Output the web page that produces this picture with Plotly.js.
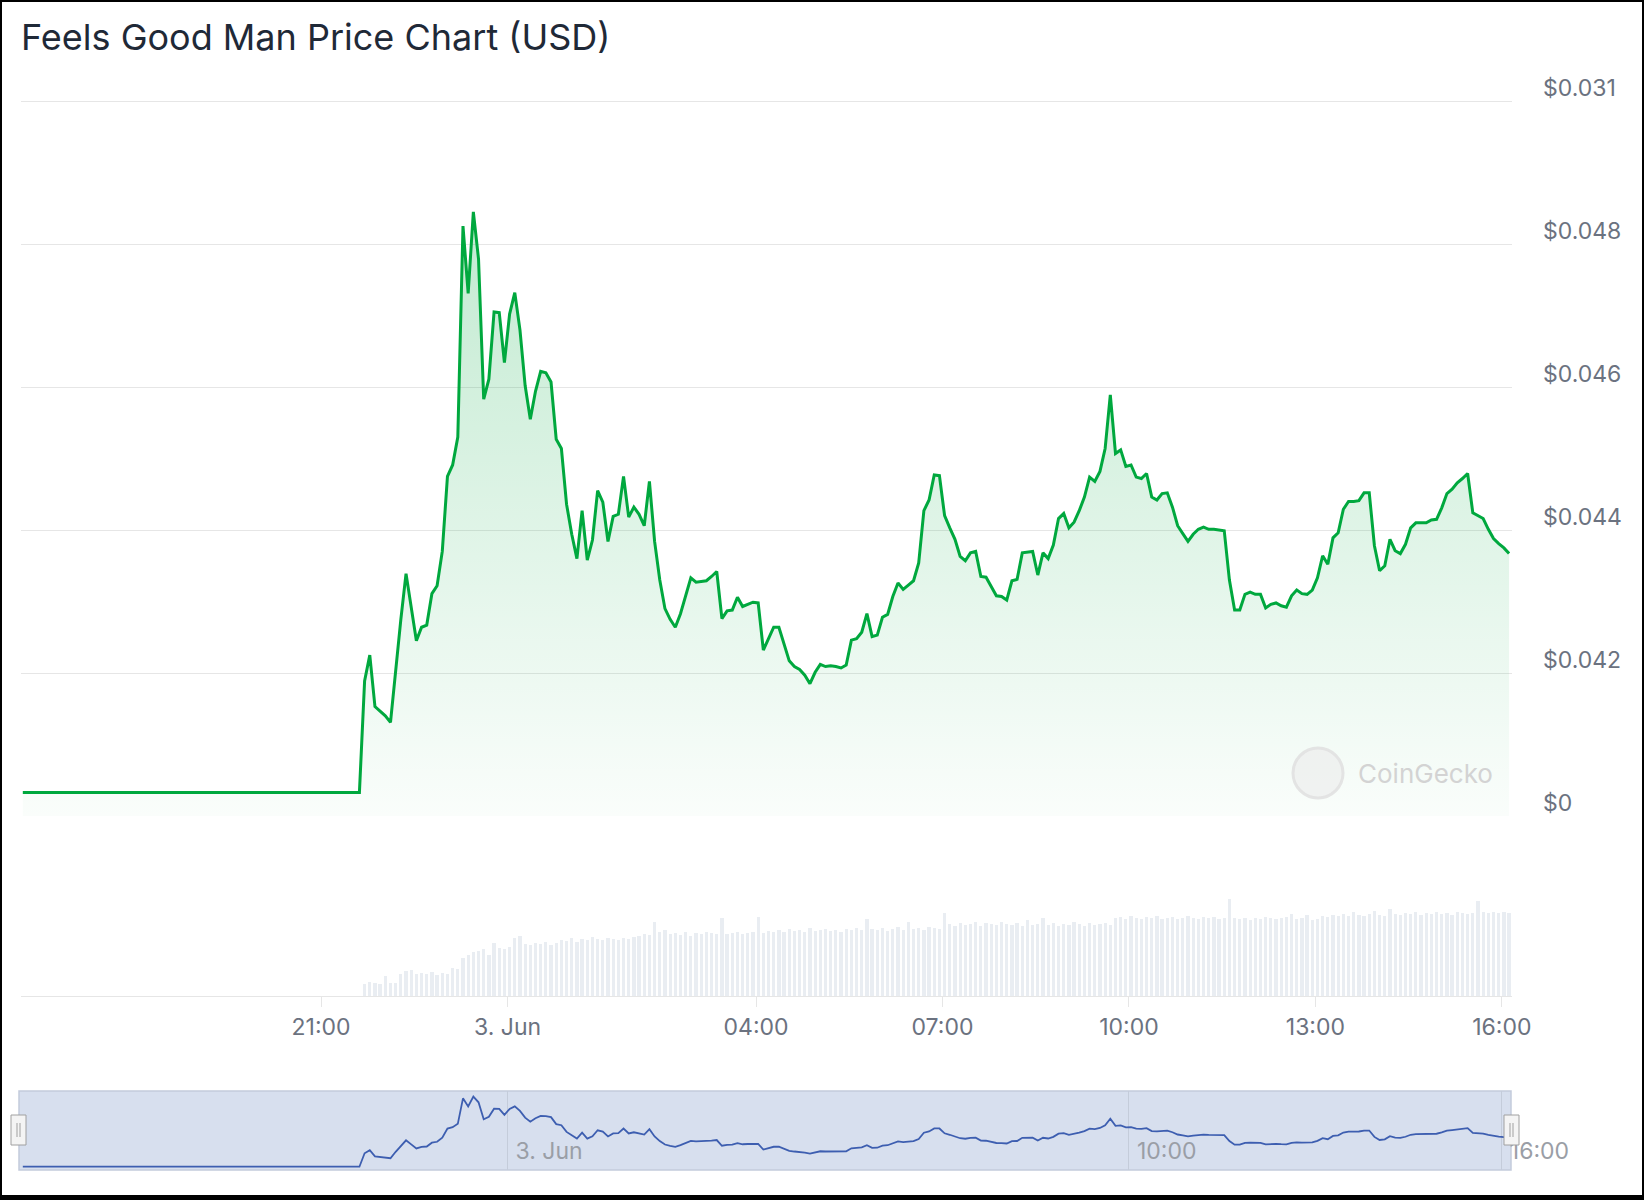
<!DOCTYPE html>
<html><head><meta charset="utf-8">
<script src="https://cdn.plot.ly/plotly-3.0.1.min.js"></script>
<style>
html,body{margin:0;padding:0;background:#fff;}
#chart{width:1644px;height:1200px;}
#frame{position:absolute;left:0;top:0;width:1644px;height:1200px;box-sizing:border-box;border:2px solid #000;border-bottom-width:5px;pointer-events:none;}
</style>
</head><body>
<div id="chart"></div><div id="frame"></div>
<script>
// ---------- data ----------
const preLaunchTimes = ['2024-06-02 16:12', '2024-06-02 21:37'];
const preLaunchPrice = [0.04033, 0.04033];

const tradeStart = [2024, 5, 2, 21, 42];   // 2 Jun 21:42, 5-minute points afterwards
const tradeStepMinutes = 5;
const tradePrices = [
 0.04189,0.04225,0.04153,0.04146,0.04140,0.04131,0.04206,0.04275,0.04339,0.04292,
 0.04245,0.04264,0.04267,0.04311,0.04322,0.04370,0.04475,0.04491,0.04530,0.04825,
 0.04731,0.04845,0.04779,0.04583,0.04611,0.04705,0.04704,0.04634,0.04702,0.04732,
 0.04680,0.04602,0.04555,0.04594,0.04622,0.04620,0.04607,0.04527,0.04514,0.04436,
 0.04394,0.04360,0.04427,0.04358,0.04386,0.04455,0.04439,0.04384,0.04419,0.04422,
 0.04475,0.04418,0.04432,0.04422,0.04406,0.04468,0.04384,0.04330,0.04290,0.04275,
 0.04264,0.04283,0.04309,0.04333,0.04327,0.04328,0.04329,0.04335,0.04342,0.04276,
 0.04287,0.04288,0.04306,0.04293,0.04296,0.04299,0.04298,0.04232,0.04248,0.04264,
 0.04264,0.04241,0.04217,0.04209,0.04205,0.04197,0.04185,0.04201,0.04212,0.04209,
 0.04210,0.04209,0.04207,0.04211,0.04246,0.04248,0.04257,0.04283,0.04251,0.04253,
 0.04278,0.04282,0.04307,0.04326,0.04317,0.04323,0.04329,0.04354,0.04427,0.04442,
 0.04477,0.04476,0.04420,0.04403,0.04387,0.04363,0.04357,0.04368,0.04370,0.04335,
 0.04334,0.04321,0.04308,0.04307,0.04302,0.04329,0.04331,0.04368,0.04369,0.04370,
 0.04337,0.04368,0.04360,0.04379,0.04416,0.04423,0.04403,0.04411,0.04427,0.04446,
 0.04474,0.04468,0.04482,0.04514,0.04589,0.04507,0.04512,0.04489,0.04491,0.04474,
 0.04472,0.04479,0.04446,0.04442,0.04451,0.04452,0.04432,0.04406,0.04395,0.04384,
 0.04394,0.04401,0.04404,0.04401,0.04401,0.04400,0.04399,0.04330,0.04288,0.04288,
 0.04310,0.04313,0.04310,0.04310,0.04291,0.04296,0.04298,0.04294,0.04292,0.04308,
 0.04316,0.04311,0.04310,0.04316,0.04333,0.04364,0.04352,0.04389,0.04396,0.04429,
 0.04440,0.04440,0.04441,0.04452,0.04452,0.04378,0.04343,0.04350,0.04387,0.04371,
 0.04367,0.04380,0.04403,0.04410,0.04410,0.04410,0.04414,0.04415,0.04431,0.04451,
 0.04457,0.04466,0.04472,0.04479,0.04424,0.04420,0.04416,0.04401,0.04388,0.04381,
 0.04375,0.04367
];
const volumes = [
 120,140,130,120,200,130,130,220,250,260,
 220,230,220,240,210,230,220,280,270,380,
 410,440,450,470,410,530,480,470,490,580,
 600,520,510,530,520,540,510,530,560,550,
 580,540,570,560,590,570,560,580,570,560,
 580,570,590,600,620,610,740,640,660,620,
 630,610,640,600,630,620,640,630,620,780,
 620,630,640,620,630,640,790,630,650,640,
 660,640,670,650,660,640,680,650,660,670,
 650,660,640,670,660,680,660,770,670,660,
 680,650,670,690,660,740,670,680,660,690,
 680,670,830,720,700,730,710,720,740,700,
 730,720,710,740,720,710,730,700,760,710,
 720,780,710,730,700,720,710,740,720,700,
 730,710,720,730,710,780,790,770,800,780,
 770,790,780,800,770,780,790,770,780,800,
 780,770,790,780,790,770,780,970,780,770,
 780,760,780,770,790,780,770,780,790,820,
 770,780,810,760,770,800,790,810,800,820,
 800,840,810,800,820,850,810,800,870,820,
 810,830,820,840,810,830,820,840,820,830,
 810,840,830,820,830,950,840,830,840,830,
 840,830
];
const xTickVals = ['2024-06-02 21:00','2024-06-03 00:00','2024-06-03 04:00','2024-06-03 07:00','2024-06-03 10:00','2024-06-03 13:00','2024-06-03 16:00'];
const xTickText = ['21:00','3. Jun','04:00','07:00','10:00','13:00','16:00'];
const yTickVals = [0.040,0.042,0.044,0.046,0.048,0.050];
const yTickText = ['$0','$0.042','$0.044','$0.046','$0.048','$0.031'];
const navTickVals = ['2024-06-03 00:00','2024-06-03 10:00','2024-06-03 16:00'];
const navTickText = ['3. Jun','10:00','16:00'];
const xRange = ['2024-06-02 16:10:15','2024-06-03 16:09:50'];

// ---------- build ----------
function pad(n){return (n<10?'0':'')+n;}
function fmt(ms){const d=new Date(ms);return d.getUTCFullYear()+'-'+pad(d.getUTCMonth()+1)+'-'+pad(d.getUTCDate())+' '+pad(d.getUTCHours())+':'+pad(d.getUTCMinutes());}
const t0 = Date.UTC.apply(null, tradeStart);
const tradeTimes = tradePrices.map((_,i)=>fmt(t0 + i*tradeStepMinutes*60000));
const volTimes = volumes.map((_,i)=>fmt(t0 + i*tradeStepMinutes*60000));
const allTimes = preLaunchTimes.concat(tradeTimes);
const allPrices = preLaunchPrice.concat(tradePrices);

const W=1644, H=1200;
const px = x => x/W;
const py = y => 1 - y/H;
const FONT = 'Inter, "Open Sans", sans-serif';
const GRAY = '#6b7280';

const traces = [
 {type:'bar', x:volTimes, y:volumes, xaxis:'x', yaxis:'y2',
  marker:{color:'#e9edf2', line:{width:0}}, width:190000, hoverinfo:'skip'},
 {type:'scatter', mode:'lines', x:allTimes, y:allPrices, xaxis:'x', yaxis:'y',
  line:{color:'#00a83e', width:3}, fill:'tozeroy',
  fillgradient:{type:'vertical', start:0.040, stop:0.0485,
    colorscale:[[0,'rgba(0,168,62,0.02)'],[1,'rgba(0,168,62,0.24)']]}},
 {type:'scatter', mode:'lines', x:allTimes, y:allPrices, xaxis:'x2', yaxis:'y3',
  line:{color:'#3d5eb0', width:1.8}}
];

const xdom = [px(21), px(1512)];
const layout = {
 width:W, height:H, margin:{l:0,r:0,t:0,b:0}, paper_bgcolor:'#fff', plot_bgcolor:'rgba(0,0,0,0)',
 showlegend:false, bargap:0,
 title:{text:'Feels Good Man Price Chart (USD)', x:px(21), xanchor:'left', xref:'paper',
   y:py(37), yanchor:'middle', yref:'container', font:{family:FONT, size:36, color:'#1f2937'}},
 xaxis:{domain:xdom, anchor:'y2', type:'date', range:xRange, tickmode:'array', tickvals:xTickVals, ticktext:xTickText,
   showgrid:false, zeroline:false, showline:true, linecolor:'#e6e6e6', linewidth:1,
   ticks:'outside', ticklen:10, tickcolor:'#e6e6e6', tickfont:{family:FONT, size:23, color:GRAY}},
 yaxis:{domain:[py(816), py(86.7)], anchor:'x', side:'right', range:[0.040,0.0502], tickmode:'array',
   tickvals:yTickVals, ticktext:yTickText, showgrid:true, gridcolor:'#e6e6e6', gridwidth:1, zeroline:false,
   showline:false, ticks:'', ticklabelstandoff:30, ticklabelshift:-13, tickfont:{family:FONT, size:23, color:GRAY}},
 yaxis2:{domain:[py(996), py(846)], anchor:'x', range:[0,1500], showgrid:false, zeroline:false, showticklabels:false, showline:false},
 xaxis2:{domain:xdom, anchor:'y3', type:'date', range:xRange, tickmode:'array', tickvals:navTickVals, ticktext:navTickText,
   showgrid:true, gridcolor:'#c4ccda', gridwidth:1, zeroline:false, showline:false, ticks:'',
   ticklabelposition:'inside right', ticklabeloverflow:'allow', ticklabelshift:8,
   tickfont:{family:FONT, size:23, color:'#9a9ea6'}},
 yaxis3:{domain:[py(1170), py(1091)], anchor:'x2', range:[0.03995,0.0491], showgrid:false, zeroline:false, showticklabels:false, showline:false},
 shapes:[
  {type:'rect', xref:'paper', yref:'paper', x0:px(19), x1:px(1511), y0:py(1170), y1:py(1091),
   fillcolor:'#d7dfee', line:{color:'#c3cbdb', width:1.5}, layer:'below'},
  {type:'rect', xref:'paper', yref:'paper', x0:px(11), x1:px(26), y0:py(1145), y1:py(1115), fillcolor:'#f4f4f4', line:{color:'#a0a0a0', width:1}},
  {type:'line', xref:'paper', yref:'paper', x0:px(17), x1:px(17), y0:py(1123), y1:py(1137), line:{color:'#a0a0a0', width:1}},
  {type:'line', xref:'paper', yref:'paper', x0:px(20), x1:px(20), y0:py(1123), y1:py(1137), line:{color:'#a0a0a0', width:1}},
  {type:'rect', xref:'paper', yref:'paper', x0:px(1504), x1:px(1519), y0:py(1145), y1:py(1115), fillcolor:'#f4f4f4', line:{color:'#a0a0a0', width:1}},
  {type:'line', xref:'paper', yref:'paper', x0:px(1510), x1:px(1510), y0:py(1123), y1:py(1137), line:{color:'#a0a0a0', width:1}},
  {type:'line', xref:'paper', yref:'paper', x0:px(1513), x1:px(1513), y0:py(1123), y1:py(1137), line:{color:'#a0a0a0', width:1}},
  {type:'circle', xref:'paper', yref:'paper', x0:px(1293), x1:px(1343), y0:py(798), y1:py(748),
   fillcolor:'rgba(235,235,235,0.6)', line:{color:'rgba(225,225,225,0.9)', width:3}}
 ],
 annotations:[
  {text:'CoinGecko', xref:'paper', yref:'paper', x:px(1356), y:py(773), xanchor:'left', yanchor:'middle',
   showarrow:false, font:{family:FONT, size:26, color:'#d3d3d3'}}
 ]
};
Plotly.newPlot('chart', traces, layout, {staticPlot:true, displayModeBar:false});
</script>
</body></html>
